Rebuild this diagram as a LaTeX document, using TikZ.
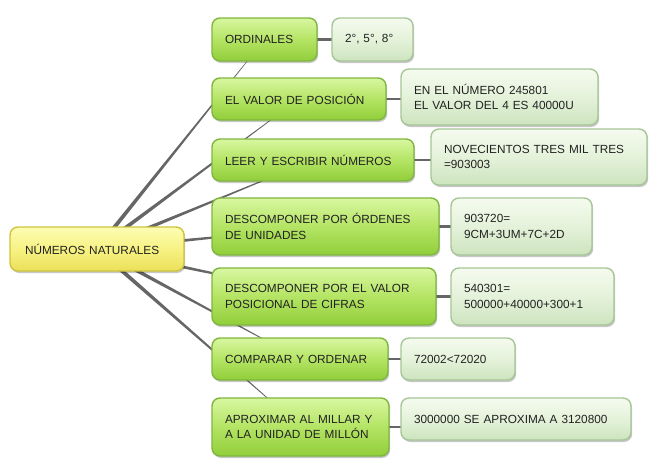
\documentclass[tikz,border=0pt]{standalone}
\usepackage{fontspec}
\setmainfont{Liberation Sans}
\usetikzlibrary{calc,shadows,backgrounds}
\definecolor{gtop}{HTML}{D8F7A0}
\definecolor{gmid}{HTML}{B4E464}
\definecolor{gbot}{HTML}{91CE3A}
\definecolor{gborder}{HTML}{7FB640}
\definecolor{ltop}{HTML}{F5FBEF}
\definecolor{lmid}{HTML}{E4F2DA}
\definecolor{lbot}{HTML}{CDE4BE}
\definecolor{lborder}{HTML}{A6C697}
\definecolor{ytop}{HTML}{FDFDB4}
\definecolor{ymid}{HTML}{F7F283}
\definecolor{ybot}{HTML}{ECE05A}
\definecolor{yborder}{HTML}{CEC43E}
\definecolor{connc}{HTML}{666666}
\definecolor{txt}{HTML}{222222}
\newcommand\taperline[2]{\fill[conn] ($(#1.center)!2.2pt!90:(#2.center)$) -- ($(#1.center)!2.2pt!-90:(#2.center)$) -- ($(#2.center)!0.05pt!90:(#1.center)$) -- ($(#2.center)!0.05pt!-90:(#1.center)$) -- cycle;}
\begin{document}
\begin{tikzpicture}[x=1pt,y=-1pt,
  every node/.style={font=\fontsize{11.8pt}{15.5pt}\selectfont, text=txt, outer sep=0pt},
  basebox/.style={rounded corners=8pt, line width=1.4pt, align=left, inner xsep=13pt, inner ysep=0pt,
    drop shadow={shadow xshift=1.2pt, shadow yshift=-2pt, opacity=0.22, fill=black}},
  gbox/.style={basebox, draw=gborder, top color=gtop, bottom color=gbot, middle color=gmid},
  lbox/.style={basebox, draw=lborder, top color=ltop, bottom color=lbot, middle color=lmid},
  ybox/.style={basebox, inner xsep=15pt, draw=yborder, top color=ytop, bottom color=ybot, middle color=ymid},
  conn/.style={fill=connc},
  hconn/.style={draw=connc, line width=2.8pt}]
\useasboundingbox (0,0) rectangle (657,471);
% root
\node[ybox, minimum width=174pt, minimum height=44pt, text width=144pt] (r) at (97,249) {NÚMEROS NATURALES};
% green boxes
\node[gbox, minimum width=105pt, minimum height=43pt, text width=79pt] (g1) at (264.5,39.5) {ORDINALES};
\node[gbox, minimum width=174pt, minimum height=42pt, text width=148pt] (g2) at (299,99) {EL VALOR DE POSICIÓN};
\node[gbox, minimum width=202pt, minimum height=42pt, text width=176pt] (g3) at (313,160) {LEER Y ESCRIBIR NÚMEROS};
\node[gbox, minimum width=227pt, minimum height=57pt, text width=201pt] (g4) at (325.5,226.5) {DESCOMPONER POR ÓRDENES\\DE UNIDADES};
\node[gbox, minimum width=224pt, minimum height=57pt, text width=198pt] (g5) at (324,296.5) {DESCOMPONER POR EL VALOR\\POSICIONAL DE CIFRAS};
\node[gbox, minimum width=176pt, minimum height=42pt, text width=150pt] (g6) at (300,359) {COMPARAR Y ORDENAR};
\node[gbox, minimum width=177pt, minimum height=58pt, text width=151pt] (g7) at (300.5,427) {APROXIMAR AL MILLAR Y\\A LA UNIDAD DE MILLÓN};
% light boxes
\node[lbox, minimum width=81pt, minimum height=43pt, text width=55pt] (l1) at (372.5,39.5) {2°, 5°, 8°};
\node[lbox, minimum width=197pt, minimum height=56pt, text width=171pt] (l2) at (499.5,97) {EN EL NÚMERO 245801\\EL VALOR DEL 4 ES 40000U};
\node[lbox, minimum width=216pt, minimum height=56pt, text width=190pt] (l3) at (539,157) {NOVECIENTOS TRES MIL TRES\\=903003};
\node[lbox, minimum width=141pt, minimum height=57pt, text width=115pt] (l4) at (521.5,226.5) {903720=\\9CM+3UM+7C+2D};
\node[lbox, minimum width=163pt, minimum height=57pt, text width=137pt] (l5) at (532.5,296.5) {540301=\\500000+40000+300+1};
\node[lbox, minimum width=114pt, minimum height=42pt, text width=88pt] (l6) at (458,359) {72002<72020};
\node[lbox, minimum width=230pt, minimum height=42pt, text width=204pt] (l7) at (516,419) {3000000 SE APROXIMA A 3120800};
\begin{pgfonlayer}{background}
\taperline{r}{g1}
\taperline{r}{g2}
\taperline{r}{g3}
\taperline{r}{g4}
\taperline{r}{g5}
\taperline{r}{g6}
\taperline{r}{g7}
\draw[hconn] (g1.east) -- (l1.west |- g1.east);
\draw[hconn] (g2.east) -- (l2.west |- g2.east);
\draw[hconn] (g3.east) -- (l3.west |- g3.east);
\draw[hconn] (g4.east) -- (l4.west |- g4.east);
\draw[hconn] (g5.east) -- (l5.west |- g5.east);
\draw[hconn] (g6.east) -- (l6.west |- g6.east);
\draw[hconn] (g7.east) -- (l7.west |- g7.east);
\end{pgfonlayer}
\end{tikzpicture}
\end{document}
